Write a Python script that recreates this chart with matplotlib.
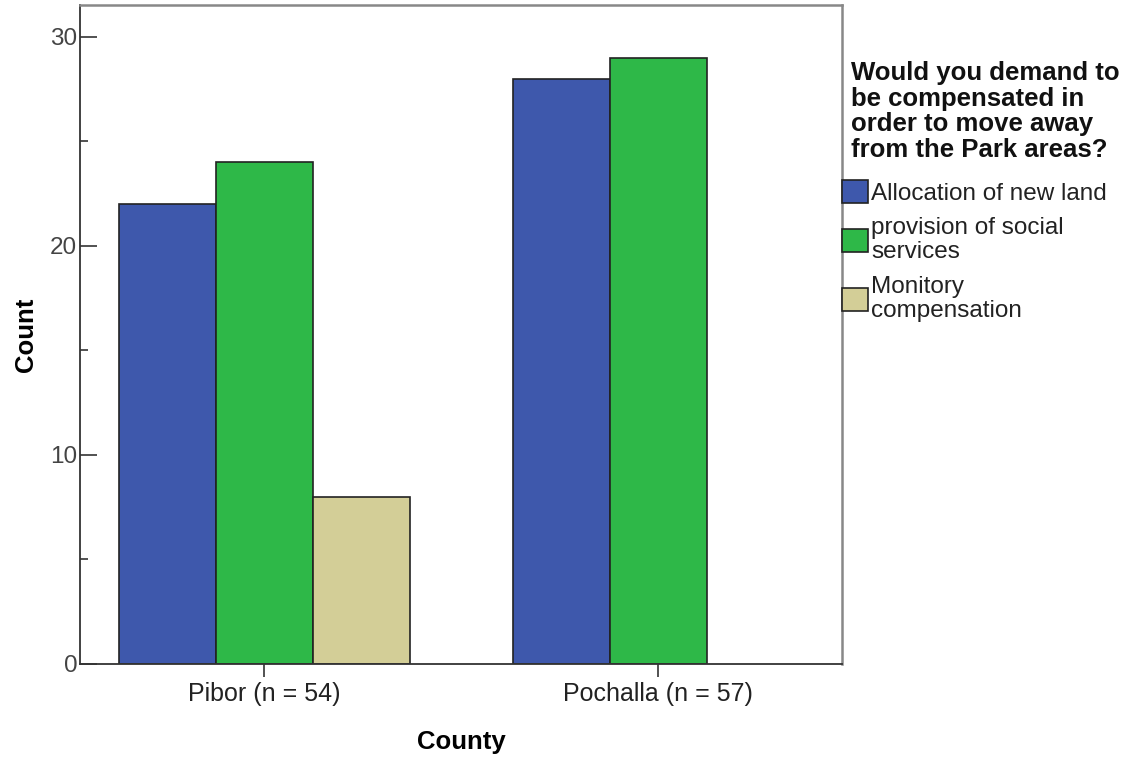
import matplotlib
matplotlib.use('agg')
from matplotlib import pyplot as plt
from matplotlib.ticker import MultipleLocator
import numpy as np

plt.rcParams['font.family'] = ['Liberation Sans', 'DejaVu Sans']

counties = ['Pibor (n = 54)', 'Pochalla (n = 57)']
categories = ['Allocation of new land', 'provision of social\nservices', 'Monitory\ncompensation']
counts = [
    [22, 28],   # Allocation of new land
    [24, 29],   # provision of social services
    [8, 0],     # Monitory compensation
]
colors = ['#3E58AC', '#2EB848', '#D3CE97']
legend_title = 'Would you demand to\nbe compensated in\norder to move away\nfrom the Park areas?'

fig = plt.figure(figsize=(11.36, 7.57), dpi=100)
ax = fig.add_axes([80 / 1136, 1 - 664 / 757, 762 / 1136, 659 / 757])

x = np.arange(len(counties))
width = 0.246
handles = []
for i, (cat, vals, col) in enumerate(zip(categories, counts, colors)):
    offs = (i - 1) * width
    h = None
    for xi, v in zip(x, vals):
        if v > 0:
            h = ax.bar(xi + offs, v, width, color=col, edgecolor='#222222', linewidth=1.2, zorder=2)
    handles.append(h)

ax.set_xlim(-0.468, 1.466)
ax.set_ylim(0, 31.53)
ax.set_xticks(x)
ax.set_xticklabels(counties, fontsize=18, color='#222222')
ax.yaxis.set_major_locator(MultipleLocator(10))
ax.yaxis.set_minor_locator(MultipleLocator(5))
ax.tick_params(axis='y', which='major', direction='in', length=12, width=1.2, color='#333333',
               labelsize=17.5, labelcolor='#444444', pad=2)
ax.tick_params(axis='y', which='minor', direction='in', length=6, width=1.2, color='#333333')
ax.tick_params(axis='x', direction='out', length=9, width=1.2, color='#333333', pad=4)

for s in ['left', 'bottom']:
    ax.spines[s].set_color('#333333')
    ax.spines[s].set_linewidth(1.3)
for s in ['top', 'right']:
    ax.spines[s].set_color('#888888')
    ax.spines[s].set_linewidth(1.8)

ax.set_ylabel('Count', fontsize=18.5, fontweight='bold', labelpad=9)
ax.set_xlabel('County', fontsize=18.5, fontweight='bold', labelpad=17)

fig.text(851 / 1136, 1 - 61 / 757, legend_title, fontsize=18.5, fontweight='bold',
         va='top', ha='left', linespacing=1.08, color='#111111')

leg = fig.legend(handles, categories, loc='upper left',
                 bbox_to_anchor=(842 / 1136, 1 - 180 / 757), frameon=False,
                 fontsize=17.5, handlelength=1.05, handleheight=1.05, handletextpad=0.15,
                 borderpad=0, borderaxespad=0, labelspacing=0.53)
for t in leg.get_texts():
    t.set_color('#222222')
    t.set_linespacing(1.12)

plt.savefig('out.png', dpi=100)
